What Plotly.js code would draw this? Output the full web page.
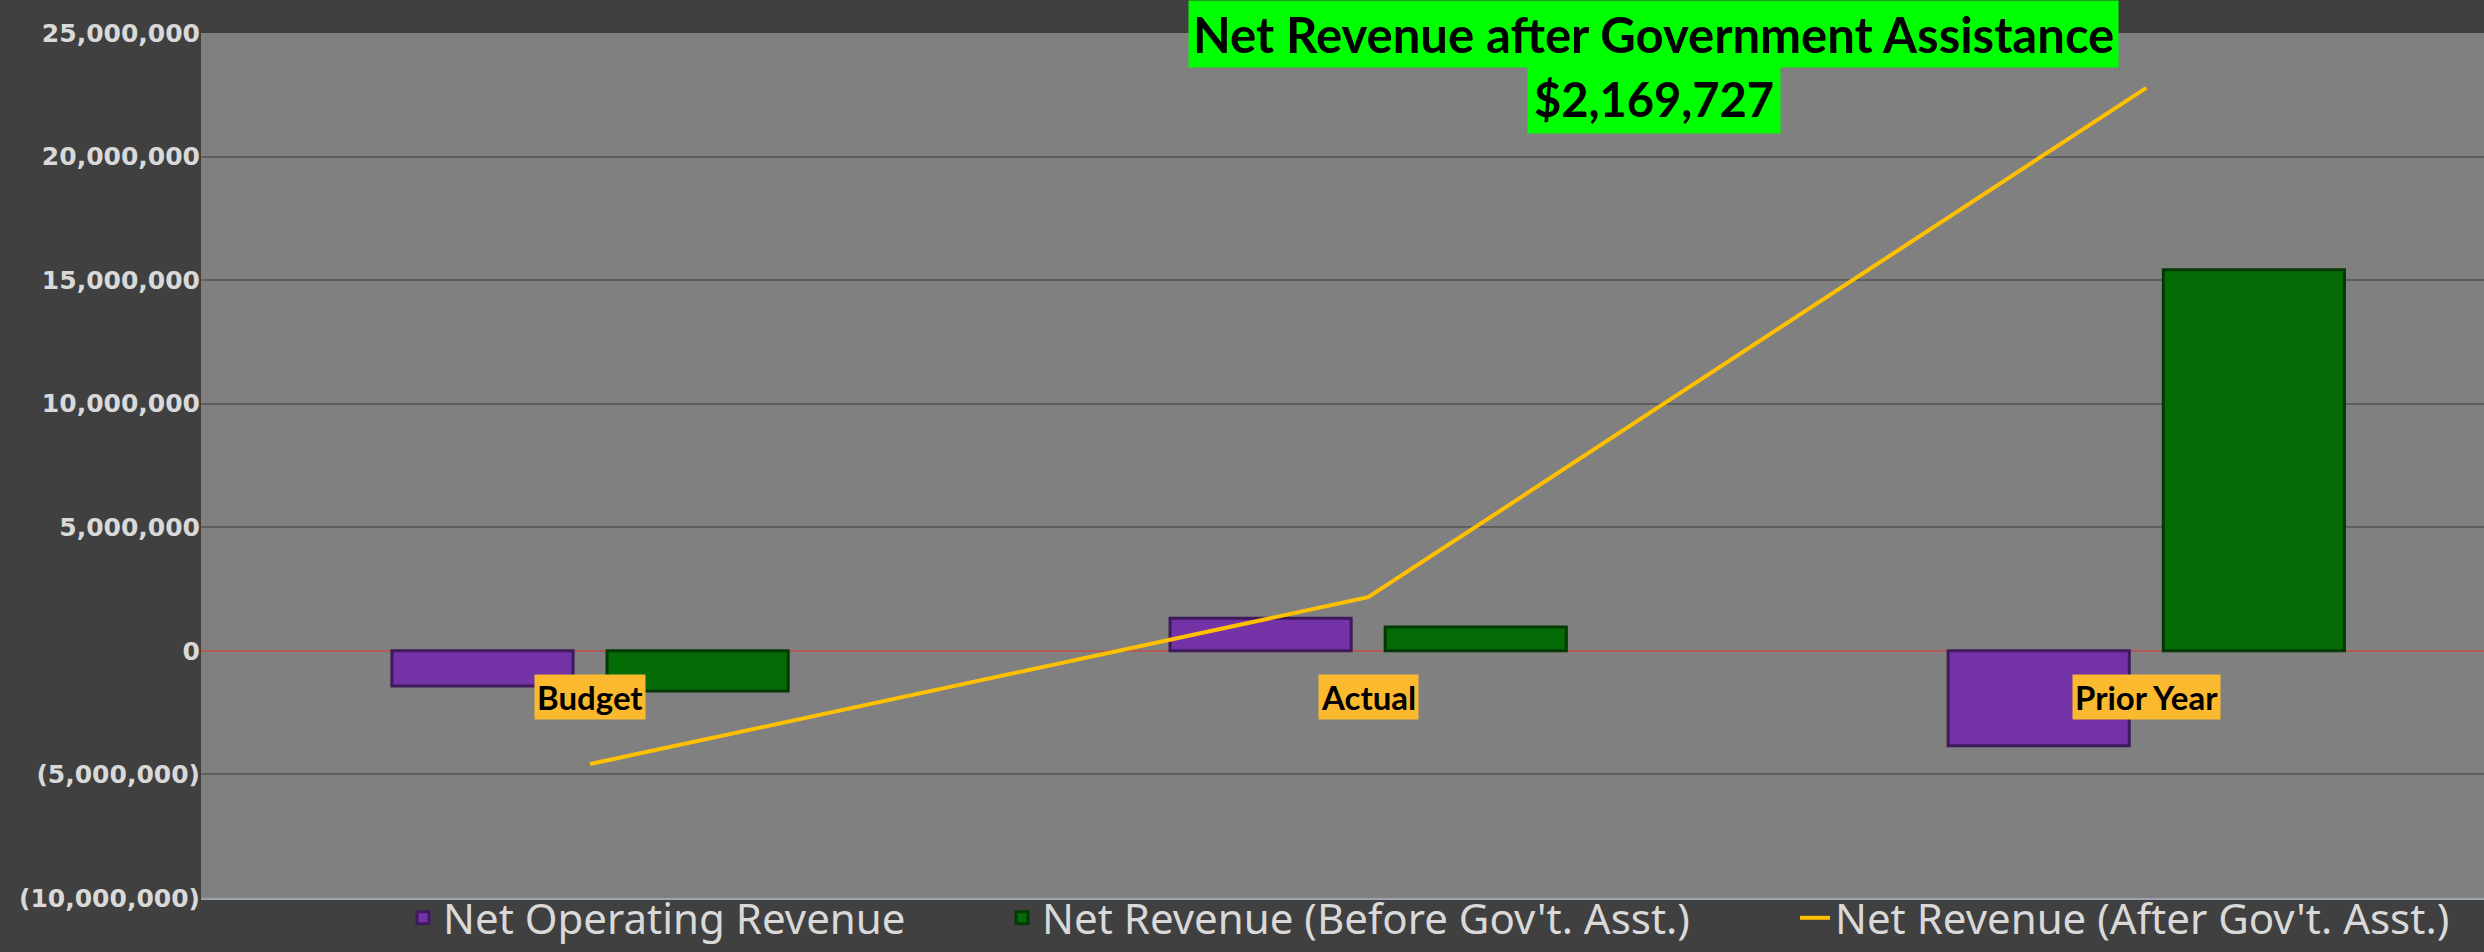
<!DOCTYPE html>
<html>
<head>
<meta charset="utf-8">
<script src="https://cdn.plot.ly/plotly-3.0.1.min.js"></script>
<style>
  html, body { margin: 0; padding: 0; background: #404040; }
  #chart { width: 2484px; height: 952px; }
</style>
</head>
<body>
<div id="chart"></div>
<script>
// ---- data ----
const categories = ['Budget', 'Actual', 'Prior Year'];
const netOperatingRevenue = [-1420000, 1320000, -3840000];
const netRevenueBeforeGovAsst = [-1620000, 970000, 15420000];
const netRevenueAfterGovAsst = [-4580000, 2169727, 22780000];
const yTickVals = [-10000000, -5000000, 0, 5000000, 10000000, 15000000, 20000000, 25000000];
const yTickText = ['(10,000,000)', '(5,000,000)', '0', '5,000,000', '10,000,000', '15,000,000', '20,000,000', '25,000,000'];
const seriesNames = ['Net Operating Revenue', "Net Revenue (Before Gov't. Asst.)", "Net Revenue (After Gov't. Asst.)"];
const titleLine1 = 'Net Revenue after Government Assistance';
const titleLine2 = '$' + netRevenueAfterGovAsst[1].toLocaleString('en-US');

const traces = [
  {
    type: 'bar', name: seriesNames[0], x: categories, y: netOperatingRevenue,
    marker: { color: '#7332A5', line: { color: '#3E1A5C', width: 3 } },
    legend: 'legend', hoverinfo: 'skip'
  },
  {
    type: 'bar', name: seriesNames[1], x: categories, y: netRevenueBeforeGovAsst,
    marker: { color: '#056B06', line: { color: '#023A03', width: 3 } },
    legend: 'legend2', hoverinfo: 'skip'
  },
  {
    type: 'scatter', mode: 'lines', name: seriesNames[2], x: categories, y: netRevenueAfterGovAsst,
    line: { color: '#FFC000', width: 4 },
    legend: 'legend3', hoverinfo: 'skip'
  }
];

const catLabelAnnotations = categories.map(c => ({
  x: c, y: 0, xref: 'x', yref: 'y', yanchor: 'top', xanchor: 'center', yshift: -23,
  text: c, showarrow: false, bgcolor: '#FBB92F', borderpad: 2,
  font: { family: 'Lato', size: 33, color: '#000000', weight: 'bold' }
}));

const legendFont = { family: 'Noto Sans', size: 42, color: '#D9D9D9' };
const legendCommon = { orientation: 'h', yanchor: 'middle', xanchor: 'left', y: -0.023,
  bgcolor: 'rgba(0,0,0,0)', font: legendFont, itemclick: false };

const layout = {
  width: 2484, height: 952,
  paper_bgcolor: '#404040', plot_bgcolor: '#808080',
  margin: { l: 201, r: 0, t: 33, b: 53 },
  barmode: 'group', bargap: 0.447, bargroupgap: 0.158,
  xaxis: {
    type: 'category', range: [-0.5, 2.434],
    showticklabels: false, ticks: '', showgrid: false, zeroline: false,
    showline: true, linecolor: '#9AA3AE', linewidth: 2, fixedrange: true
  },
  yaxis: {
    range: [-10000000, 25000000], tickvals: yTickVals, ticktext: yTickText,
    showgrid: true, gridcolor: '#5E5E5E', gridwidth: 2,
    zeroline: true, zerolinecolor: '#B05A5A', zerolinewidth: 2,
    tickfont: { family: 'DejaVu Sans', size: 25, color: '#D9D9D9', weight: 'bold' },
    ticks: '', ticklen: 0, automargin: false, fixedrange: true
  },
  showlegend: true,
  legend: Object.assign({}, legendCommon, { x: 0.0885 }),
  legend2: Object.assign({}, legendCommon, { x: 0.3509 }),
  legend3: Object.assign({}, legendCommon, { x: 0.6982 }),
  annotations: [
    {
      xref: 'paper', yref: 'paper', x: 0.6364, y: 1, yshift: 33, xanchor: 'center', yanchor: 'top',
      text: titleLine1, showarrow: false, bgcolor: '#00FF00', borderpad: 4,
      font: { family: 'Lato', size: 49, color: '#000000', weight: 'bold' }
    },
    {
      xref: 'paper', yref: 'paper', x: 0.6364, y: 1, yshift: -31, xanchor: 'center', yanchor: 'top',
      text: titleLine2, showarrow: false, bgcolor: '#00FF00', borderpad: 6,
      font: { family: 'Lato', size: 47, color: '#000000', weight: 'bold' }
    }
  ].concat(catLabelAnnotations)
};

Plotly.newPlot('chart', traces, layout, { displayModeBar: false, staticPlot: true });
</script>
</body>
</html>
